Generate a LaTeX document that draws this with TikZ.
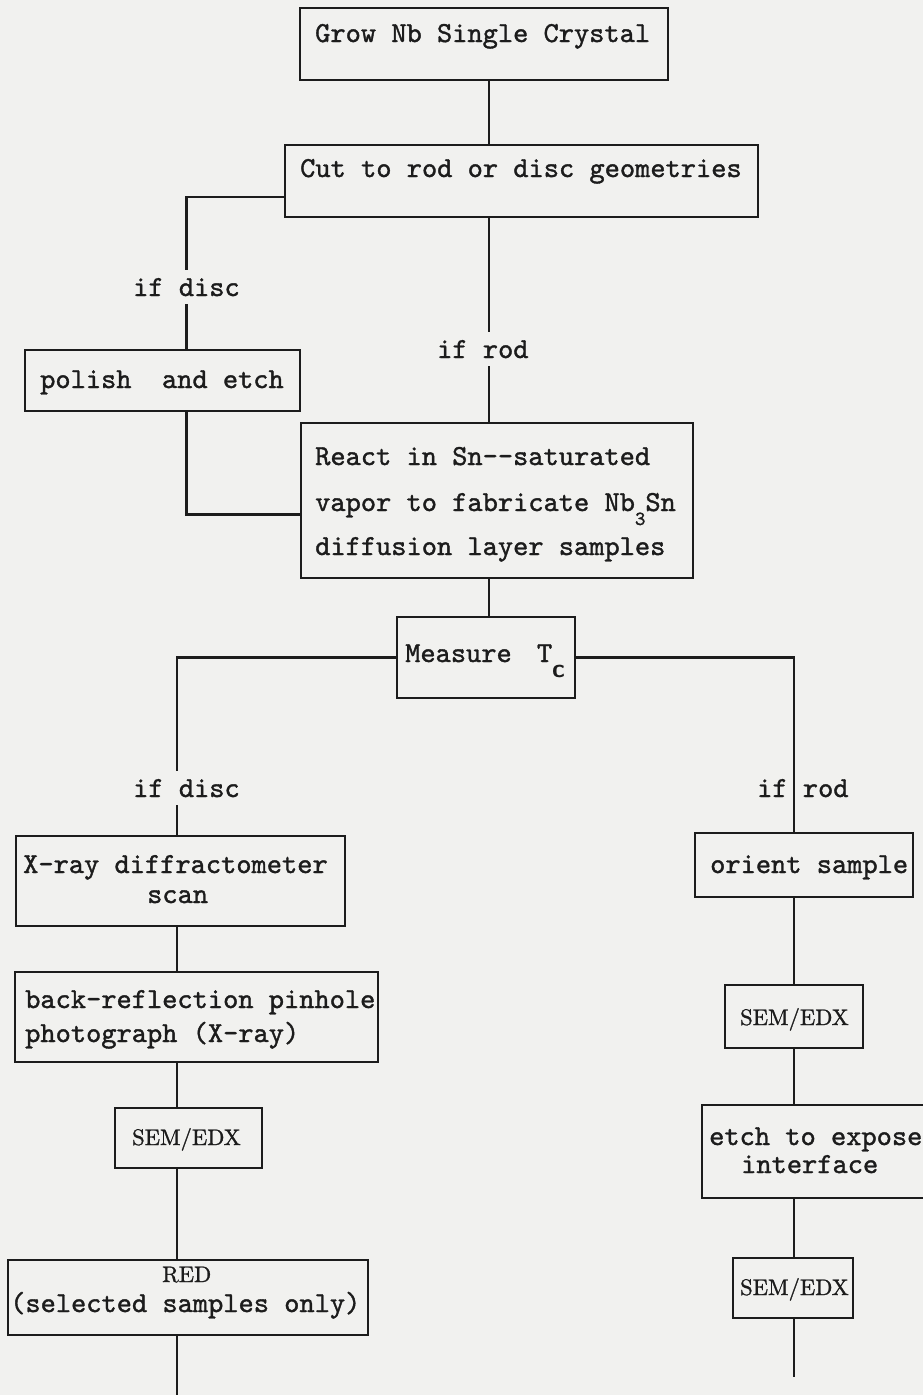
\documentclass[tikz,border=0pt]{standalone}
\usepackage{fontspec}
\usetikzlibrary{calc}
\newfontfamily\twfont{lmmono10-regular.otf}[FakeBold=1.3]
\newfontfamily\smfont{lmroman10-regular.otf}[FakeBold=1.2]
\definecolor{paper}{RGB}{241,241,239}
\definecolor{ink}{RGB}{28,28,28}
\tikzset{
 box/.style={draw=ink, line width=2.3pt, inner sep=0pt, outer sep=0pt},
 conn/.style={draw=ink, line width=2.3pt},
 tw/.style={text=ink, inner sep=0pt, anchor=base west, font=\twfont\fontsize{29}{34}\selectfont},
 lbl/.style={tw, inner xsep=0pt, inner ysep=8pt},
 sm/.style={text=ink, inner sep=0pt, anchor=base west, font=\smfont\fontsize{22.5}{26}\selectfont},
}
\begin{document}
\begin{tikzpicture}[x=1pt,y=-1pt]
\useasboundingbox (0,0) rectangle (923,1395);
\clip (0,0) rectangle (923,1395);
\fill[paper] (0,0) rectangle (923,1395);

% boxes
\node[box, minimum width=368pt, minimum height=72pt] (grow) at (484,44) {};
\node[box, minimum width=473pt, minimum height=72pt] (cut) at (521.5,181) {};
\node[box, minimum width=275pt, minimum height=61pt] (polish) at (162.5,380.5) {};
\node[box, minimum width=392pt, minimum height=155pt] (react) at (497,500.5) {};
\node[box, minimum width=178pt, minimum height=81pt] (measure) at (486,657.5) {};
\node[box, minimum width=329pt, minimum height=90pt] (xray) at (180.5,881) {};
\node[box, minimum width=363pt, minimum height=90pt] (back) at (196.5,1017) {};
\node[box, minimum width=147pt, minimum height=60pt] (sem1) at (188.5,1138) {};
\node[box, minimum width=360pt, minimum height=75pt] (red) at (188,1297.5) {};
\node[box, minimum width=218pt, minimum height=64pt] (orient) at (804,865) {};
\node[box, minimum width=138pt, minimum height=63pt] (sem2) at (794,1016.5) {};
\node[box, minimum width=238pt, minimum height=93pt] (etch) at (821,1151.5) {};
\node[box, minimum width=120pt, minimum height=60pt] (sem3) at (793,1288) {};

% texts
\node[tw] (tgrow) at (315,42) {Grow Nb Single Crystal};
\node[tw] (tcut) at (300,177) {Cut to rod or disc geometries};
\node[lbl] (ifd1) at (133,296) {if disc};
\node[tw] (tpolish) at (40,388) {polish\ \ and etch};
\node[lbl] (ifr1) at (437,358) {if rod};
\node[tw] (tr1) at (315,465) {React in Sn-{}-saturated};
\node[tw] (tr2) at (315,511) {vapor to fabricate Nb\raisebox{-14pt}{\fontsize{20}{20}\selectfont 3}Sn};
\node[tw] (tr3) at (315,555) {diffusion layer samples};
\node[tw] (tmeas) at (405,662) {Measure \hspace{10pt}T\raisebox{-15pt}{\sffamily\bfseries\fontsize{26}{26}\selectfont c}};
\node[lbl] (ifd2) at (133,797) {if disc};
\node[lbl] (ifr2) at (757,797) {if rod};
\node[tw] (tx1) at (23,873) {X-ray diffractometer};
\node[tw] (tx2) at (147,903) {scan};
\node[tw] (tb1) at (25,1008) {back-reflection pinhole};
\node[tw] (tb2) at (25,1042) {photograph (X-ray)};
\node[sm] (ts1) at (132,1145) {SEM/EDX};
\node[sm] (tred1) at (162,1282) {RED};
\node[tw] (tred2) at (10,1312) {(selected samples only)};
\node[tw] (tor) at (710,873) {orient sample};
\node[sm] (ts2) at (740,1025) {SEM/EDX};
\node[tw] (te1) at (709,1145) {etch to expose};
\node[tw] (te2) at (741,1173) {interface};
\node[sm] (ts3) at (740,1295) {SEM/EDX};

% spines
\coordinate (spine) at (489,0);
\coordinate (ls) at (177,0);
\coordinate (rs) at (794,0);
\coordinate (endL) at (177,1400);
\coordinate (endR) at (794,1377);

% connectors
\draw[conn] (grow.south -| spine) -- (cut.north -| spine);
\draw[conn] (cut.south -| spine) -- (ifr1.north -| spine);
\draw[conn] (ifr1.south -| spine) -- (react.north -| spine);
\draw[conn] ($(cut.west)+(0,16)$) -| (ifd1.north);
\draw[conn] (ifd1.south) -- (ifd1.south |- polish.north);
\draw[conn] (polish.south -| ifd1) |- ($(react.west)+(0,14)$);
\draw[conn] (react.south -| spine) -- (measure.north -| spine);
\draw[conn] (measure.west) -| (ifd2.north -| ls);
\draw[conn] (ifd2.south -| ls) -- (xray.north -| ls);
\draw[conn] (xray.south -| ls) -- (back.north -| ls);
\draw[conn] (back.south -| ls) -- (sem1.north -| ls);
\draw[conn] (sem1.south -| ls) -- (red.north -| ls);
\draw[conn] (red.south -| ls) -- (endL);
\draw[conn] (measure.east) -| (orient.north -| rs);
\draw[conn] (orient.south -| rs) -- (sem2.north -| rs);
\draw[conn] (sem2.south -| rs) -- (etch.north -| rs);
\draw[conn] (etch.south -| rs) -- (sem3.north -| rs);
\draw[conn] (sem3.south -| rs) -- (endR);
\end{tikzpicture}
\end{document}
